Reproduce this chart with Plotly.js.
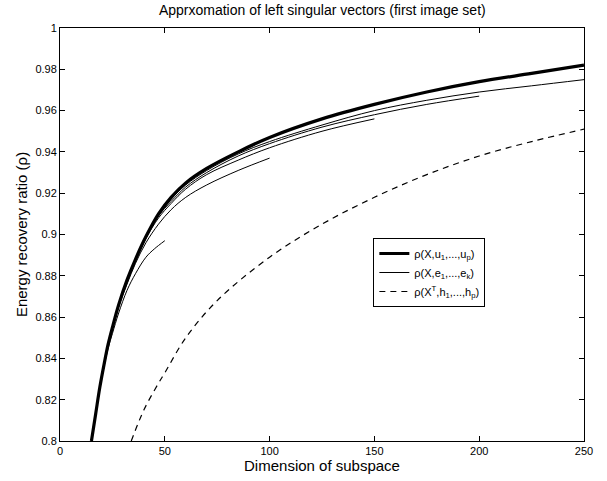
<!DOCTYPE html>
<html>
<head>
<meta charset="utf-8">
<script src="https://cdn.plot.ly/plotly-3.0.1.min.js"></script>
<style>html,body{margin:0;padding:0;background:#fff;}#chart{width:607px;height:481px;}</style>
</head>
<body>
<div id="chart"></div>
<script>
// rho(X,u_1..u_p) : thick
const uX = [15, 17, 19, 21, 23, 25, 28, 32, 36, 41, 47, 53, 60, 70, 85, 100, 125, 150, 175, 200, 225, 250];
const uY = [0.800, 0.813, 0.826, 0.837, 0.847, 0.855, 0.866, 0.878, 0.888, 0.899, 0.910, 0.918, 0.925, 0.932, 0.940, 0.947, 0.956, 0.963, 0.969, 0.974, 0.978, 0.982];

// rho(X,e_1..e_k) : thin, one curve per k
const e50X = [15, 17, 19, 21, 23, 25, 28, 32, 36, 41, 45, 50];
const e50Y = [0.800, 0.813, 0.825, 0.836, 0.845, 0.852, 0.862, 0.873, 0.881, 0.889, 0.893, 0.897];
const e100X = [15, 17, 19, 21, 23, 25, 28, 32, 36, 41, 47, 53, 60, 70, 85, 100];
const e100Y = [0.800, 0.813, 0.826, 0.837, 0.846, 0.854, 0.865, 0.876, 0.886, 0.896, 0.905, 0.912, 0.918, 0.924, 0.931, 0.937];
const e150X = [15, 17, 19, 21, 23, 25, 28, 32, 36, 41, 47, 53, 60, 70, 85, 100, 125, 150];
const e150Y = [0.800, 0.813, 0.826, 0.837, 0.847, 0.855, 0.866, 0.877, 0.887, 0.898, 0.908, 0.915, 0.922, 0.929, 0.936, 0.942, 0.950, 0.956];
const e200X = [15, 17, 19, 21, 23, 25, 28, 32, 36, 41, 47, 53, 60, 70, 85, 100, 125, 150, 175, 200];
const e200Y = [0.800, 0.813, 0.826, 0.837, 0.847, 0.855, 0.866, 0.878, 0.888, 0.899, 0.909, 0.916, 0.923, 0.930, 0.938, 0.944, 0.952, 0.958, 0.963, 0.967];
const e250X = [15, 17, 19, 21, 23, 25, 28, 32, 36, 41, 47, 53, 60, 70, 85, 100, 125, 150, 175, 200, 225, 250];
const e250Y = [0.800, 0.813, 0.826, 0.837, 0.847, 0.855, 0.866, 0.878, 0.888, 0.899, 0.909, 0.917, 0.924, 0.931, 0.939, 0.945, 0.953, 0.960, 0.965, 0.969, 0.972, 0.975];

// rho(X^T,h_1..h_p) : dashed
const hX = [34, 40, 47, 50, 60, 75, 100, 125, 150, 175, 200, 225, 250];
const hY = [0.800, 0.815, 0.828, 0.833, 0.850, 0.868, 0.889, 0.905, 0.918, 0.929, 0.938, 0.945, 0.951];

const xTicks = [0, 50, 100, 150, 200, 250];
const yTicks = [0.8, 0.82, 0.84, 0.86, 0.88, 0.9, 0.92, 0.94, 0.96, 0.98, 1];
const yTickText = ['0.8', '0.82', '0.84', '0.86', '0.88', '0.9', '0.92', '0.94', '0.96', '0.98', '1'];

const names = {
  u: 'ρ(X,u<sub>1</sub>,...,u<sub>p</sub>)',
  e: 'ρ(X,e<sub>1</sub>,...,e<sub>k</sub>)',
  h: 'ρ(X<sup>T</sup>,h<sub>1</sub>,...,h<sub>p</sub>)'
};

const thin = {color: '#000', width: 1, shape: 'spline'};
const traces = [
  {x: e50X, y: e50Y, mode: 'lines', line: thin, name: names.e, showlegend: false, legendrank: 2},
  {x: e100X, y: e100Y, mode: 'lines', line: thin, name: names.e, showlegend: false, legendrank: 2},
  {x: e150X, y: e150Y, mode: 'lines', line: thin, name: names.e, showlegend: false, legendrank: 2},
  {x: e200X, y: e200Y, mode: 'lines', line: thin, name: names.e, showlegend: false, legendrank: 2},
  {x: uX, y: uY, mode: 'lines', line: {color: '#000', width: 3.2, shape: 'spline'}, name: names.u, legendrank: 1},
  {x: e250X, y: e250Y, mode: 'lines', line: thin, name: names.e, legendrank: 2},
  {x: hX, y: hY, mode: 'lines', line: {color: '#000', width: 1.2, dash: '6px,5px', shape: 'spline'}, name: names.h, legendrank: 3}
];

const axisCommon = {
  showline: true, linecolor: '#000', linewidth: 1, mirror: 'ticks',
  ticks: 'inside', ticklen: 5, tickcolor: '#000', tickwidth: 1,
  showgrid: false, zeroline: false,
  tickfont: {family: 'Liberation Sans, Arial, sans-serif', size: 11, color: '#000'}
};

const layout = {
  width: 607, height: 481,
  margin: {l: 60, r: 23, t: 28, b: 40},
  paper_bgcolor: '#fff', plot_bgcolor: '#fff',
  font: {family: 'Liberation Sans, Arial, sans-serif', color: '#000'},
  title: {text: 'Apprxomation of left singular vectors (first image set)',
          font: {size: 14, color: '#000'}, x: 0.531, xanchor: 'center', y: 0.979, yanchor: 'middle'},
  xaxis: Object.assign({}, axisCommon, {
    range: [0, 250], tickvals: xTicks, ticktext: xTicks.map(String),
    title: {text: 'Dimension of subspace', font: {size: 15, color: '#000'}, standoff: 2}
  }),
  yaxis: Object.assign({}, axisCommon, {
    range: [0.8, 1], tickvals: yTicks, ticktext: yTickText,
    title: {text: 'Energy recovery ratio (ρ)', font: {size: 15, color: '#000'}, standoff: 4}
  }),
  showlegend: true,
  legend: {
    x: 0.598, y: 0.4915, xanchor: 'left', yanchor: 'top',
    bgcolor: '#fff', bordercolor: '#000', borderwidth: 1,
    font: {size: 11, color: '#000'}, tracegroupgap: 0, itemwidth: 30
  }
};

Plotly.newPlot('chart', traces, layout, {staticPlot: true, displayModeBar: false});
</script>
</body>
</html>
